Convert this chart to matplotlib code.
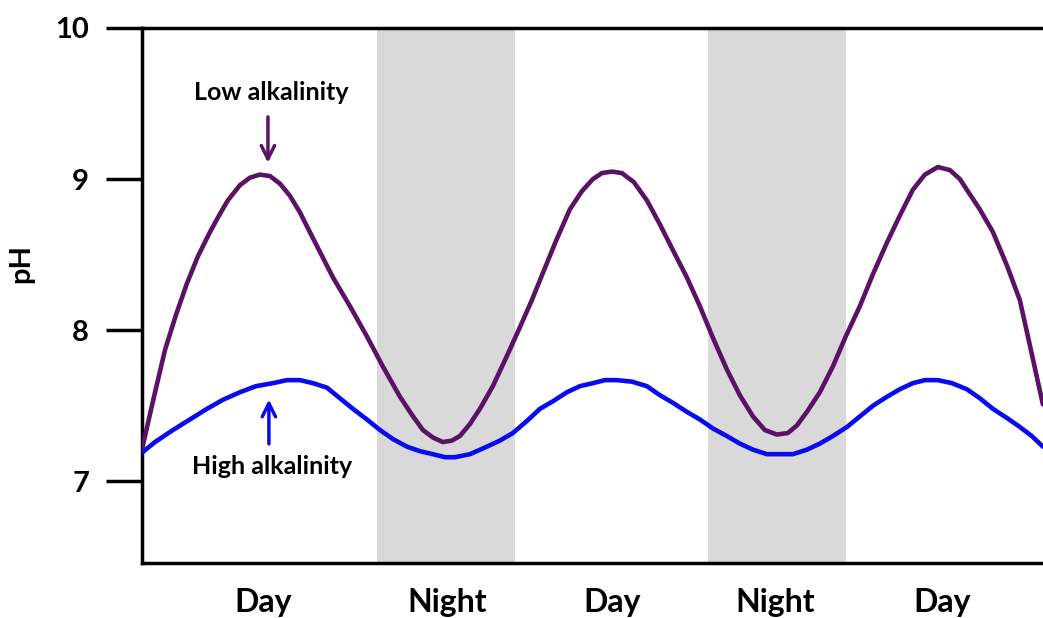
import matplotlib
matplotlib.use("Agg")
import matplotlib.pyplot as plt

plt.rcParams["font.family"] = ["Lato", "DejaVu Sans"]
plt.rcParams["font.weight"] = "bold"

# ---- Data (x in hours, y in pH) ----
low_hours = [0.00, 0.72, 1.67, 2.46, 3.26, 4.06, 4.93, 5.65, 6.23, 7.10, 7.83,
             8.55, 9.28, 10.00, 10.72, 11.45, 12.61, 13.84, 15.07, 16.30, 17.46,
             18.70, 19.57, 20.36, 21.09, 21.81, 22.46, 23.04, 23.77, 24.49, 25.43,
             26.45, 27.39, 28.26, 29.06, 30.00, 31.01, 31.88, 32.68, 33.33, 34.06,
             34.78, 35.65, 36.59, 37.54, 38.48, 39.49, 40.43, 41.38, 42.39, 43.33,
             44.28, 45.14, 46.01, 46.81, 47.46, 48.19, 49.13, 50.07, 51.01, 52.03,
             52.97, 53.99, 54.93, 55.87, 56.74, 57.68, 58.55, 59.28, 59.78, 60.72,
             61.67, 62.68, 63.62, 64.35, 65.29]
low_ph = [7.21, 7.50, 7.87, 8.10, 8.31, 8.49, 8.65, 8.77, 8.86, 8.96, 9.01,
          9.03, 9.02, 8.97, 8.89, 8.78, 8.57, 8.35, 8.16, 7.96, 7.76,
          7.56, 7.44, 7.34, 7.29, 7.26, 7.27, 7.30, 7.38, 7.48, 7.63,
          7.83, 8.02, 8.20, 8.38, 8.59, 8.80, 8.92, 9.00, 9.04, 9.05,
          9.04, 8.98, 8.86, 8.70, 8.53, 8.35, 8.16, 7.95, 7.74, 7.57,
          7.43, 7.34, 7.31, 7.32, 7.37, 7.46, 7.59, 7.76, 7.96, 8.16,
          8.37, 8.58, 8.76, 8.93, 9.03, 9.08, 9.06, 9.00, 8.93, 8.80,
          8.65, 8.43, 8.20, 7.90, 7.51]

high_hours = [0.00, 0.94, 2.25, 3.48, 4.71, 5.87, 7.10, 8.26, 9.49, 10.51, 11.45,
              12.39, 13.41, 14.35, 15.29, 16.30, 17.25, 18.19, 19.20, 20.14, 21.09,
              21.96, 22.68, 23.77, 25.00, 25.94, 26.88, 27.90, 28.84, 29.78, 30.80,
              31.74, 32.68, 33.55, 34.42, 35.51, 36.59, 37.54, 38.48, 39.49, 40.43,
              41.38, 42.39, 43.33, 44.28, 45.29, 46.23, 47.17, 48.19, 49.13, 50.07,
              51.09, 52.03, 52.97, 53.99, 54.93, 55.87, 56.74, 57.68, 58.70, 59.78,
              60.72, 61.67, 62.68, 63.62, 64.49, 65.29]
high_ph = [7.19, 7.26, 7.34, 7.41, 7.48, 7.54, 7.59, 7.63, 7.65, 7.67, 7.67,
           7.65, 7.62, 7.55, 7.48, 7.41, 7.34, 7.28, 7.23, 7.20, 7.18,
           7.16, 7.16, 7.18, 7.23, 7.27, 7.32, 7.40, 7.48, 7.53, 7.59,
           7.63, 7.65, 7.67, 7.67, 7.66, 7.63, 7.57, 7.52, 7.46, 7.41,
           7.35, 7.30, 7.25, 7.21, 7.18, 7.18, 7.18, 7.21, 7.25, 7.30,
           7.36, 7.43, 7.50, 7.56, 7.61, 7.65, 7.67, 7.67, 7.65, 7.61,
           7.55, 7.48, 7.42, 7.36, 7.30, 7.23]

nights = [(17.0, 27.0), (41.0, 51.0)]
period_labels = ["Day", "Night", "Day", "Night", "Day"]
period_pos = [8.8, 22.1, 34.1, 45.9, 58.0]
ph_ticks = [7, 8, 9, 10]

purple = "#5a1166"
blue = "#0a0af0"

fig = plt.figure(figsize=(10.43, 6.18), dpi=100)
ax = fig.add_axes([0.1361, 0.089, 0.8639, 0.8657])

for start, end in nights:
    ax.axvspan(start, end, color="#d9d9d9", lw=0, zorder=0)

ax.plot(low_hours, low_ph, color=purple, lw=3.3, solid_capstyle="round",
        solid_joinstyle="round", zorder=3)
ax.plot(high_hours, high_ph, color=blue, lw=3.3, solid_capstyle="round",
        solid_joinstyle="round", zorder=3)

ax.set_xlim(0, 65.3)
ax.set_ylim(6.46, 10)

ax.set_yticks(ph_ticks)
ax.set_yticklabels([str(t) for t in ph_ticks], fontsize=21, fontweight="bold")
ax.set_xticks(period_pos)
ax.set_xticklabels(period_labels, fontsize=23, fontweight="bold")
ax.tick_params(axis="y", direction="out", length=26, width=2.5, pad=12)
ax.tick_params(axis="x", length=0, pad=18)
ax.set_ylabel("pH", fontsize=21, fontweight="bold")
ax.yaxis.set_label_coords(-0.119, 0.56)

for side in ["left", "top", "bottom"]:
    ax.spines[side].set_linewidth(2.5)
ax.spines["right"].set_visible(False)

# annotations
ax.annotate("", xy=(9.13, 9.09), xytext=(9.13, 9.43),
            arrowprops=dict(arrowstyle="->", color=purple, lw=2.5, mutation_scale=24))
ax.text(9.4, 9.57, "Low alkalinity", ha="center", va="center", fontsize=18,
        fontweight="bold", color="black")
ax.annotate("", xy=(9.2, 7.56), xytext=(9.2, 7.23),
            arrowprops=dict(arrowstyle="->", color=blue, lw=2.5, mutation_scale=24))
ax.text(9.4, 7.10, "High alkalinity", ha="center", va="center", fontsize=18,
        fontweight="bold", color="black")

plt.savefig("out.png", dpi=100)
